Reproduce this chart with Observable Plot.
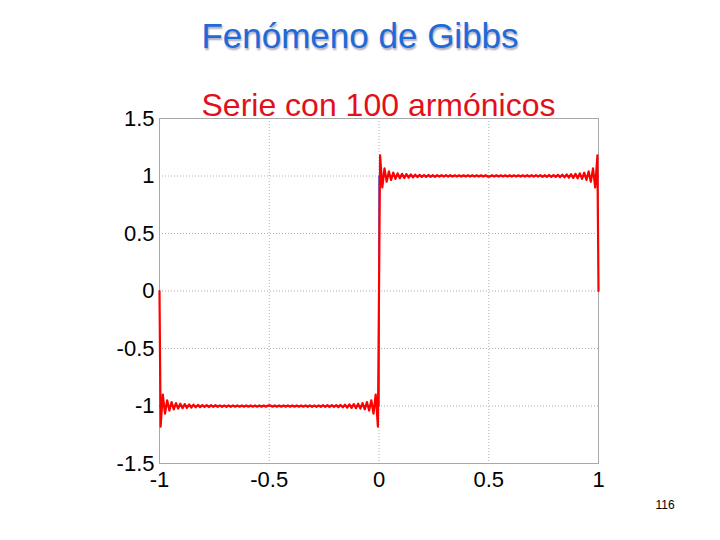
<!DOCTYPE html>
<html><head><meta charset="utf-8">
<script src="https://cdn.jsdelivr.net/npm/d3@7"></script>
<script src="https://cdn.jsdelivr.net/npm/@observablehq/plot@0.6"></script>
<style>
body{margin:0;background:#fff;font-family:"Liberation Sans",Arial,sans-serif;}
#wrap{position:relative;width:720px;height:540px;overflow:hidden;background:#fff}
#title{position:absolute;left:0;width:720px;top:18px;line-height:1;text-align:center;font-size:35px;color:#1e6ad8;text-shadow:1px 2px 2px rgba(0,0,60,0.35);}
#sub{position:absolute;left:159px;width:439px;top:89px;line-height:1;text-align:center;font-size:32px;color:#e3101b;white-space:nowrap}
#page{position:absolute;left:640px;width:50px;text-align:center;top:499px;line-height:1;font-size:12px;color:#000}
#chart{position:absolute;left:0;top:0}
</style></head>
<body>
<div id="wrap">
  <div id="chart"></div>
  <div id="title">Fenómeno de Gibbs</div>
  <div id="sub">Serie con 100 armónicos</div>
  <div id="page">116</div>
</div>
<script>
// Tick values
const xTicks = [-1, -0.5, 0, 0.5, 1];
const yTicks = [-1.5, -1, -0.5, 0, 0.5, 1, 1.5];
const xGrid = [-0.5, 0, 0.5];
const yGrid = [-1, -0.5, 0, 0.5, 1];

// Ideal square wave (blue, underneath)
const squareX = [-1, 0, 0, 1];
const squareY = [-1, -1, 1, 1];

// Ripple extremes near each jump:
// distance from the discontinuity and magnitude relative to the plateau
const rippleDist = [0.005, 0.015, 0.025, 0.035, 0.045, 0.055, 0.065, 0.075, 0.085, 0.095,
                    0.105, 0.115, 0.125, 0.135, 0.145, 0.155, 0.165, 0.175, 0.185, 0.195,
                    0.205, 0.215, 0.225, 0.235, 0.245, 0.255, 0.265, 0.275, 0.285, 0.295,
                    0.305, 0.315, 0.325, 0.335, 0.345, 0.355, 0.365, 0.375, 0.385, 0.395,
                    0.405, 0.415, 0.425, 0.435, 0.445, 0.455, 0.465, 0.475, 0.485, 0.495];
const rippleMag  = [1.18, 0.90, 1.066, 0.95, 1.04, 0.966, 1.029, 0.975, 1.023, 0.98,
                    1.019, 0.983, 1.016, 0.986, 1.014, 0.988, 1.012, 0.99, 1.01, 0.992,
                    1.009, 0.992, 1.009, 0.993, 1.008, 0.993, 1.008, 0.994, 1.007, 0.994,
                    1.007, 0.994, 1.007, 0.995, 1.006, 0.995, 1.006, 0.995, 1.006, 0.995,
                    1.006, 0.995, 1.006, 0.995, 1.006, 0.995, 1.006, 0.995, 1.006, 0.995];
// values at the end points / discontinuities
const jumpX = [-1, 0, 1];
const jumpY = [0, 0, 0];

// Build the Fourier-sum polyline from the read values
const red = [];
red.push({x: jumpX[0], y: jumpY[0]});
for (let i = 0; i < rippleDist.length; i++) red.push({x: -1 + rippleDist[i], y: -rippleMag[i]});
for (let i = rippleDist.length - 1; i >= 0; i--) red.push({x: -rippleDist[i], y: -rippleMag[i]});
red.push({x: jumpX[1], y: jumpY[1]});
for (let i = 0; i < rippleDist.length; i++) red.push({x: rippleDist[i], y: rippleMag[i]});
for (let i = rippleDist.length - 1; i >= 0; i--) red.push({x: 1 - rippleDist[i], y: rippleMag[i]});
red.push({x: jumpX[2], y: jumpY[2]});

const square = squareX.map((x, i) => ({x, y: squareY[i]}));

const chart = Plot.plot({
  width: 720, height: 540,
  marginLeft: 159, marginRight: 122, marginTop: 118, marginBottom: 77,
  style: {fontFamily: "Liberation Sans, Arial, sans-serif", fontSize: "22px", color: "#000", background: "transparent"},
  x: {domain: [-1, 1], label: null},
  y: {domain: [-1.5, 1.5], label: null},
  marks: [
    Plot.gridX(xGrid, {stroke: "#b0b0b0", strokeOpacity: 1, strokeDasharray: "1,2"}),
    Plot.gridY(yGrid, {stroke: "#b0b0b0", strokeOpacity: 1, strokeDasharray: "1,2"}),
    Plot.frame({stroke: "#a8a8a8"}),
    Plot.axisX(xTicks, {tickSize: 0, tickPadding: 8, tickFormat: d => String(d), fontSize: 22, label: null}),
    Plot.axisY(yTicks, {tickSize: 0, tickPadding: 5, tickFormat: d => String(d), fontSize: 22, label: null}),
    Plot.line(square, {x: "x", y: "y", stroke: "#2020d0", strokeWidth: 1.2}),
    Plot.line(red, {x: "x", y: "y", stroke: "#ff0000", strokeWidth: 2.2})
  ]
});
document.getElementById("chart").appendChild(chart);
</script>
</body></html>
